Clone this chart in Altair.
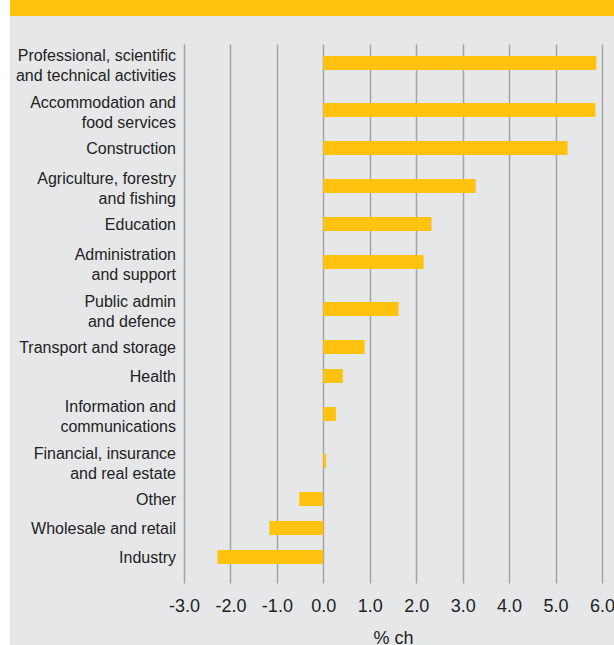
import altair as alt
import pandas as pd

categories = [
    "Professional, scientific\nand technical activities",
    "Accommodation and\nfood services",
    "Construction",
    "Agriculture, forestry\nand fishing",
    "Education",
    "Administration\nand support",
    "Public admin\nand defence",
    "Transport and storage",
    "Health",
    "Information and\ncommunications",
    "Financial, insurance\nand real estate",
    "Other",
    "Wholesale and retail",
    "Industry",
]
values = [5.88, 5.86, 5.26, 3.28, 2.33, 2.16, 1.62, 0.89, 0.42, 0.27, 0.06, -0.52, -1.16, -2.28]
x_ticks = [-3, -2, -1, 0, 1, 2, 3, 4, 5, 6]

# row layout: a two-line label takes a taller row than a one-line label
line_counts = [c.count("\n") + 1 for c in categories]
row_h = [29 if n == 1 else 47 for n in line_counts]
centers = []
acc = 0
for h in row_h:
    centers.append(acc + h / 2)
    acc += h

df = pd.DataFrame({"sector": categories, "value": values, "pos": centers, "lines": line_counts})

FONT = "Liberation Sans"
YELLOW = "#FFC20E"
BG = "#E6E7E9"
TXT = "#222222"

yscale = alt.Scale(domain=[4.5, 543.5], reverse=True, nice=False, zero=False, padding=0)

base = alt.Chart(df)

bars = base.mark_bar(color=YELLOW, orient="horizontal", size=14).encode(
    x=alt.X(
        "value:Q",
        scale=alt.Scale(domain=[-3, 6], nice=False, zero=False, padding=0),
        axis=alt.Axis(
            values=x_ticks,
            labelExpr="(datum.value < 0 ? '-' : '') + format(abs(datum.value), '.1f')",
            title="% ch",
            titleFontSize=18,
            titleFontWeight="normal",
            titleFont=FONT,
            titleColor=TXT,
            titlePadding=14,
            labelFontSize=18,
            labelFont=FONT,
            labelColor=TXT,
            labelPadding=14,
            labelOverlap=False,
            labelFlush=False,
            ticks=False,
            domain=False,
            grid=True,
            gridColor="#A4A4A4",
            gridWidth=1.5,
        ),
    ),
    x2=alt.datum(0),
    y=alt.Y("pos:Q", scale=yscale, axis=None),
)

one_line = base.transform_filter("datum.lines == 1").mark_text(
    align="right", baseline="middle", font=FONT, fontSize=16, color=TXT, lineBreak="\n", lineHeight=20, dy=1
).encode(
    x=alt.value(-8),
    y=alt.Y("pos:Q", scale=yscale, axis=None),
    text="sector:N",
)

two_line = base.transform_filter("datum.lines == 2").mark_text(
    align="right", baseline="middle", font=FONT, fontSize=16, color=TXT, lineBreak="\n", lineHeight=20, dy=-7
).encode(
    x=alt.value(-8),
    y=alt.Y("pos:Q", scale=yscale, axis=None),
    text="sector:N",
)

one = alt.Data(values=[{"a": 1}])

left_strip = alt.Chart(one).mark_rect(color="white").encode(
    x=alt.value(-184), x2=alt.value(-174), y=alt.value(-44), y2=alt.value(601)
)
top_band = alt.Chart(one).mark_rect(color=YELLOW).encode(
    x=alt.value(-174), x2=alt.value(430), y=alt.value(-44), y2=alt.value(-28)
)

chart = (
    alt.layer(left_strip, top_band, bars, one_line, two_line)
    .properties(
        width=418,
        height=539,
        autosize=alt.AutoSizeParams(type="none"),
        padding={"left": 184, "top": 44, "right": 12, "bottom": 62},
        background=BG,
    )
    .configure_view(stroke=None)
)

chart.save("out.html", embed_options={"renderer": "svg", "actions": False})
